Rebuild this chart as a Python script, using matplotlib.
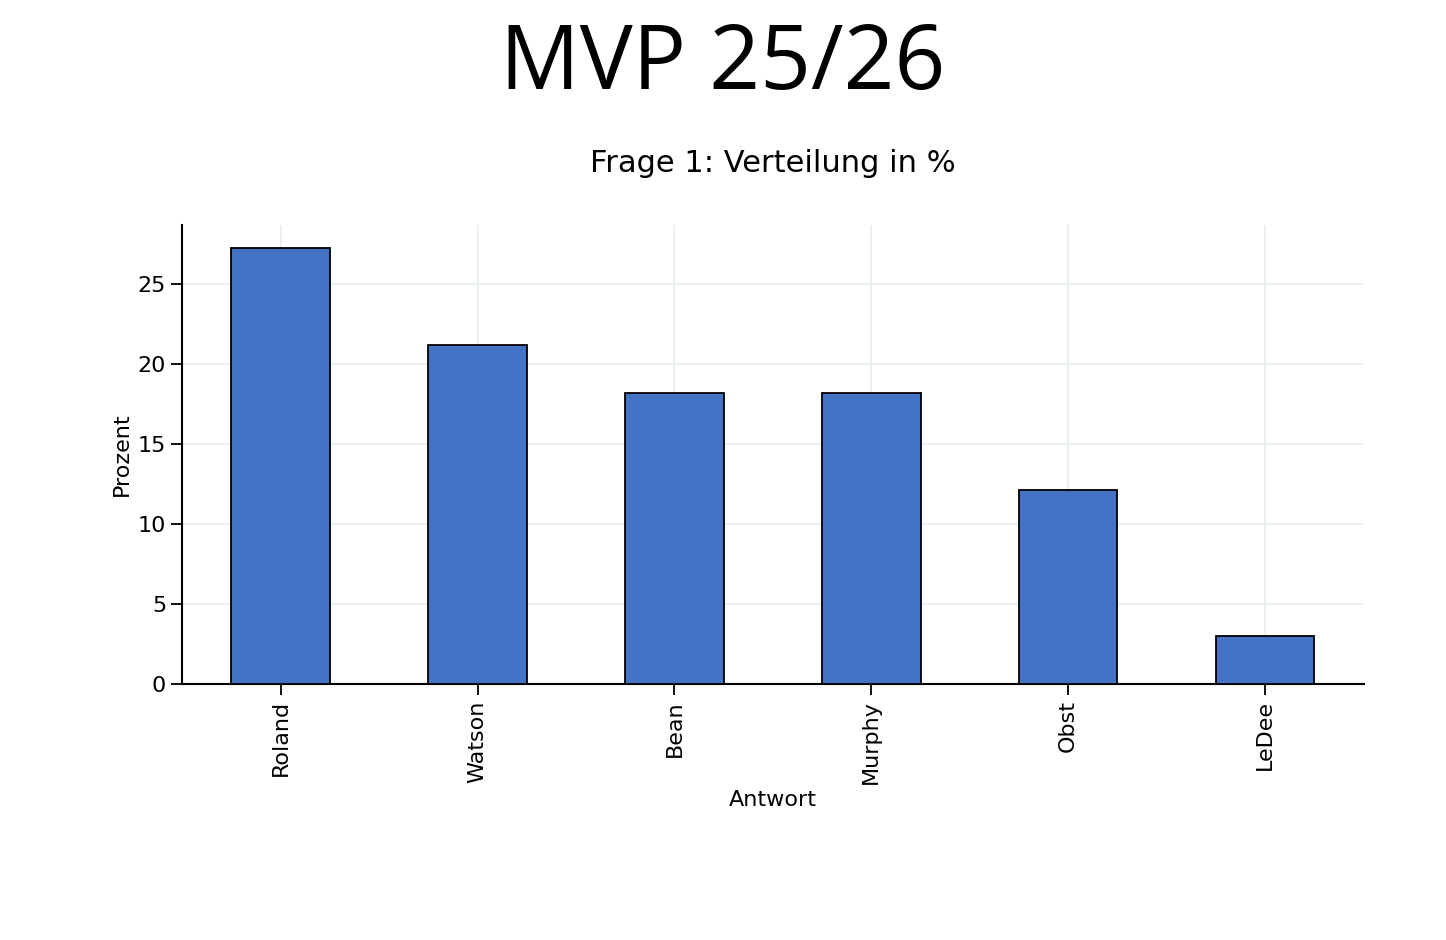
import matplotlib
matplotlib.use("Agg")
import matplotlib.pyplot as plt

categories = ["Roland", "Watson", "Bean", "Murphy", "Obst", "LeDee"]
values = [27.27, 21.21, 18.18, 18.18, 12.12, 3.03]

fig = plt.figure(figsize=(14.46, 9.4), dpi=100)
ax = fig.add_axes([0.126, 0.272, 0.817, 0.489])
x = range(len(categories))
ax.bar(x, values, width=0.5, color="#4472C4", edgecolor="black", linewidth=1.3, zorder=3)
ax.set_xticks(list(x))
ax.set_xticklabels(categories, rotation=90, fontsize=16)
ax.set_xlim(-0.5, 5.5)
ax.set_ylim(0, 28.7)
ax.set_yticks([0, 5, 10, 15, 20, 25])
ax.tick_params(axis="y", labelsize=16, length=8, width=1.3)
ax.tick_params(axis="x", length=8, width=1.3)
ax.grid(True, color="#e6ecee", linewidth=1.2, zorder=0)
for s in ["top", "right"]:
    ax.spines[s].set_visible(False)
for s in ["left", "bottom"]:
    ax.spines[s].set_linewidth(1.5)
ax.set_ylabel("Prozent", fontsize=16)
ax.set_xlabel("Antwort", fontsize=16)
ax.set_title("Frage 1: Verteilung in %", fontsize=22, pad=38)
fig.text(0.5, 0.93, "MVP 25/26", ha="center", va="center", fontsize=64, family="Open Sans")
fig.savefig("out.png", dpi=100, facecolor="white")
